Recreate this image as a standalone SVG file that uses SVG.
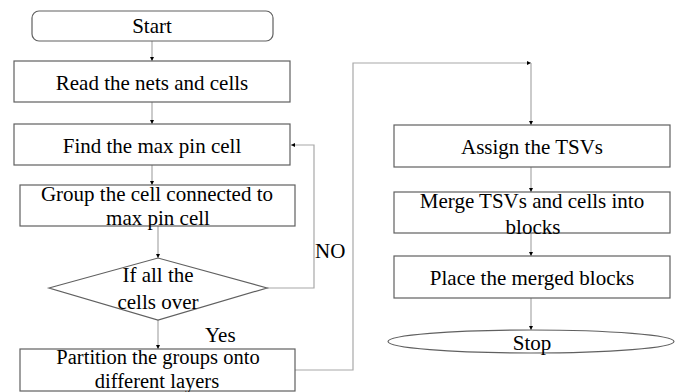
<svg xmlns="http://www.w3.org/2000/svg" width="680" height="392" viewBox="0 0 680 392">
<style>
.box{fill:#fff;stroke:#606060;stroke-width:1.2}
.t{text-anchor:middle}
.c{fill:none;stroke:#a8a8a8;stroke-width:1.2}
</style>
<defs>
<marker id="ah" viewBox="0 0 6 6" refX="6" refY="3" markerWidth="4" markerHeight="4" orient="auto" markerUnits="userSpaceOnUse">
<path d="M0,0 L6,3 L0,6 z" fill="#000"/>
</marker>
</defs>
<rect width="680" height="392" fill="#fff"/>
<g font-family="Liberation Serif, 'DejaVu Serif', serif" font-size="21" fill="#000">
<g id="connectors">
<path class="c" d="M152,41 V61" marker-end="url(#ah)"/>
<path class="c" d="M152,102 V124" marker-end="url(#ah)"/>
<path class="c" d="M152,165 V185" marker-end="url(#ah)"/>
<path class="c" d="M158,226 V258" marker-end="url(#ah)"/>
<path class="c" d="M158,320 V349" marker-end="url(#ah)"/>
<path class="c" d="M267,288 H314 V145 H291" marker-end="url(#ah)"/>
<path class="c" d="M295,370 H353 V63 H531" marker-end="url(#ah)"/>
<path class="c" d="M531,63 V125" marker-end="url(#ah)"/>
<path class="c" d="M531,167 V192" marker-end="url(#ah)"/>
<path class="c" d="M531,233 V256" marker-end="url(#ah)"/>
<path class="c" d="M531,298 V330" marker-end="url(#ah)"/>
<text x="315" y="258">NO</text>
<text x="205" y="342">Yes</text>
</g>
<g id="start">
<rect class="box" x="32" y="11" width="241" height="30" rx="7"/>
<text class="t" x="152" y="33">Start</text>
</g>
<g id="read">
<rect class="box" x="14" y="61" width="276" height="41"/>
<text class="t" x="152" y="90">Read the nets and cells</text>
</g>
<g id="find">
<rect class="box" x="14" y="124" width="276" height="41"/>
<text class="t" x="152" y="153">Find the max pin cell</text>
</g>
<g id="group">
<rect class="box" x="20" y="185" width="275" height="41"/>
<text class="t" x="157" y="201">Group the cell connected to</text>
<text class="t" x="158" y="225">max pin cell</text>
</g>
<g id="decision">
<polygon class="box" points="49,288 158,258 267,288 158,320"/>
<text class="t" x="158" y="282">If all the</text>
<text class="t" x="158" y="309">cells over</text>
</g>
<g id="partition" font-size="20.5">
<rect class="box" x="20" y="349" width="275" height="42"/>
<text class="t" x="158" y="364">Partition the groups onto</text>
<text class="t" x="157" y="388">different layers</text>
</g>
<g id="assign">
<rect class="box" x="394" y="125" width="276" height="42"/>
<text class="t" x="532" y="154">Assign the TSVs</text>
</g>
<g id="merge">
<rect class="box" x="394" y="192" width="276" height="41"/>
<text class="t" x="532" y="208">Merge TSVs and cells into</text>
<text class="t" x="533" y="234">blocks</text>
</g>
<g id="place">
<rect class="box" x="394" y="256" width="276" height="42"/>
<text class="t" x="532" y="285">Place the merged blocks</text>
</g>
<g id="stop">
<ellipse class="box" cx="531" cy="341.5" rx="143" ry="11.5"/>
<text class="t" x="532" y="350">Stop</text>
</g>
</g>
</svg>
